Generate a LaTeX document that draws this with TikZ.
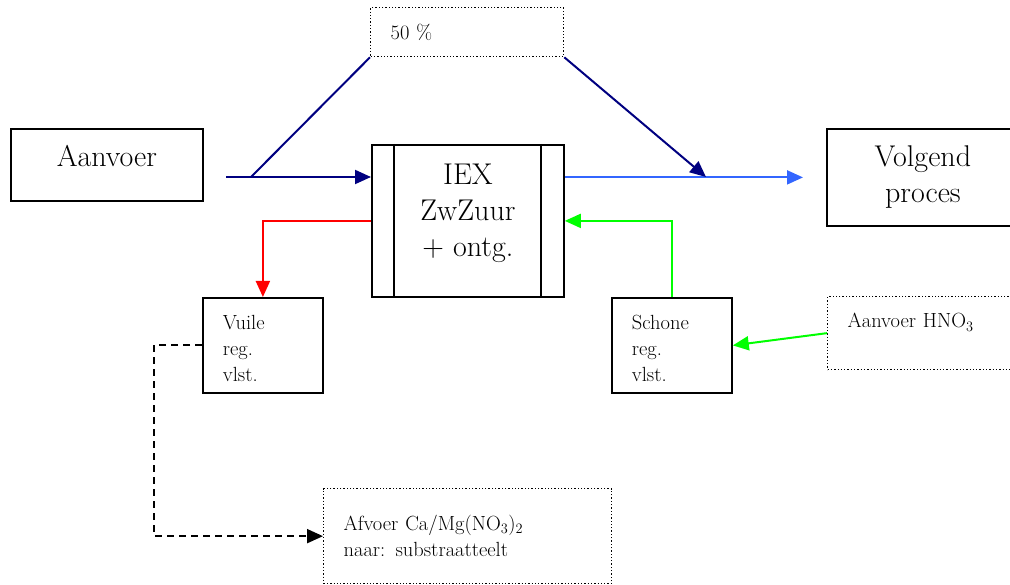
\documentclass[tikz,border=0pt]{standalone}
\usetikzlibrary{arrows.meta}
\definecolor{darknavy}{RGB}{0,0,128}
\definecolor{flowblue}{RGB}{51,102,255}
\definecolor{regred}{RGB}{255,0,0}
\definecolor{reggreen}{RGB}{0,255,0}

\begin{document}
\begin{tikzpicture}[x=1pt,y=-1pt,
  bigbox/.style={draw,line width=1.8pt,anchor=north west,inner sep=0pt,
    align=center,font=\fontsize{30}{36}\selectfont},
  smallbox/.style={draw,line width=1.8pt,anchor=north west,inner xsep=20pt,
    inner ysep=0pt,align=left,font=\fontsize{20.5}{26}\selectfont},
  notebox/.style={smallbox,line width=1.3pt,dotted},
  flowline/.style={line width=2pt},
  flow/.style={flowline,-{Triangle[length=16pt,width=14pt]}}]
  \useasboundingbox (0,0) rectangle (1010,585);

  \node[bigbox,minimum width=192pt,minimum height=72pt,text depth=18pt]
    (aanvoer) at (10,128) {Aanvoer};
  \node[notebox,text width=153pt,minimum height=49pt] (pct) at (370,7) {50 \%};
  \node[bigbox,minimum width=192pt,minimum height=152pt,text depth=22pt]
    (iex) at (371,144) {IEX\\ZwZuur\\+ ontg.};
  \draw[line width=1.8pt] ([xshift=23pt]iex.north west) -- ([xshift=23pt]iex.south west);
  \draw[line width=1.8pt] ([xshift=-24pt]iex.north east) -- ([xshift=-24pt]iex.south east);
  \node[bigbox,minimum width=192pt,minimum height=97pt] (volgend) at (826,128)
    {Volgend\\proces};
  \node[smallbox,text width=80pt,minimum height=95pt,text depth=46pt]
    (vuile) at (202,297) {Vuile\\reg.\\vlst.};
  \node[smallbox,text width=80pt,minimum height=95pt,text depth=46pt]
    (schone) at (611,297) {Schone\\reg.\\vlst.};
  \node[notebox,text width=151pt,minimum height=73pt,text depth=25pt]
    (hno) at (827,296) {Aanvoer HNO\textsubscript{3}};
  \node[notebox,text width=248pt,minimum height=95pt] (afvoer) at (323,488)
    {Afvoer Ca/Mg(NO\textsubscript{3})\textsubscript{2}\\naar: substraatteelt};

  \coordinate (feed) at (226,177);
  \coordinate (split) at (251,177);
  \coordinate (merge) at (706,177);

  \draw[flow,darknavy] (feed) -- (feed -| iex.west);
  \draw[flowline,darknavy] (split) -- (pct.south west);
  \draw[flow,flowblue] (volgend.west -| iex.east) -- ([xshift=-23pt]volgend.west);
  \draw[flow,darknavy] (pct.south east) -- (merge);
  \draw[flow,regred] (iex.west) -| (vuile.north);
  \draw[flow,reggreen] (schone.north) |- (iex.east);
  \draw[flow,reggreen] (hno.west) -- (schone.east);
  \draw[flow,dash pattern=on 7pt off 5pt] (vuile.west) -- ++(-48,0) |- (afvoer.west);
\end{tikzpicture}
\end{document}
